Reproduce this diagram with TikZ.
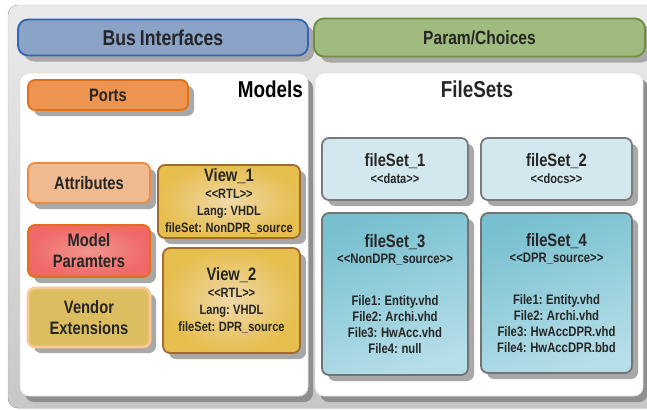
\documentclass[tikz,border=0pt]{standalone}
\usepackage{fontspec}
\setmainfont{Liberation Sans}[FakeStretch=0.82, WordSpace=0.8]
\usetikzlibrary{shadows}
\definecolor{txt}{HTML}{262626}
\definecolor{shadowgray}{HTML}{A8A8A8}
\definecolor{busfill}{HTML}{8AA3C6}
\definecolor{busline}{HTML}{3066B2}
\definecolor{parfill}{HTML}{A0BB7E}
\definecolor{parline}{HTML}{6E8E40}
\definecolor{orangeline}{HTML}{E36E14}
\definecolor{viewline}{HTML}{A06A30}
\definecolor{viewin}{HTML}{F0D8A8}
\definecolor{viewout}{HTML}{E6BE4E}
\newcommand\dlt{<\kern0pt<}
\newcommand\dgt{>\kern0pt>}
\begin{document}
\begin{tikzpicture}[x=1pt, y=-1pt,
  tile/.style={rounded corners=7pt, line width=1.8pt, inner sep=0pt, align=center, text=txt,
    drop shadow={shadow xshift=6pt, shadow yshift=-6pt, fill=shadowgray, opacity=1}},
  header/.style={tile, rounded corners=10pt, font=\bfseries\fontsize{21.5}{22}\selectfont},
  panel/.style={rounded corners=9pt, fill=white, draw=black!12, line width=.8pt, inner sep=0pt,
    drop shadow={shadow xshift=5pt, shadow yshift=-6pt, fill=shadowgray!85!black, opacity=1}},
  item/.style={tile, font=\bfseries\fontsize{18}{22}\selectfont},
  view/.style={tile, draw=viewline, inner color=viewin, outer color=viewout,
    font=\bfseries\fontsize{13.5}{17}\selectfont},
  lightset/.style={tile, draw=black!52, fill={rgb,255:red,210;green,232;blue,238},
    font=\bfseries\fontsize{13.5}{17}\selectfont},
  darkset/.style={tile, draw=black!55, top color={rgb,255:red,120;green,192;blue,208},
    bottom color={rgb,255:red,182;green,222;blue,232}, shading angle=20,
    font=\bfseries\fontsize{13.8}{16}\selectfont},
  title/.style={font=\bfseries\fontsize{23}{23}\selectfont, inner sep=0pt}]
\useasboundingbox (0,0) rectangle (647,410);
\clip (0,0) rectangle (647,410);
% background
\fill[rounded corners=10pt, top color=black!8, bottom color=black!22, draw=black!28]
  (8,5) rectangle (670,408);
% headers
\node[header, draw=busline, fill=busfill, minimum width=290, minimum height=36] (bus) at (163,37.5) {Bus Interfaces};
\node[header, draw=parline, fill=parfill, font=\bfseries\fontsize{19}{22}\selectfont,
  minimum width=331, minimum height=38] (param) at (479.5,37.5) {Param/Choices};
% panels
\node[panel, minimum width=288, minimum height=323] (models) at (164,234.5) {};
\node[panel, minimum width=328, minimum height=323] (filesets) at (479,234.5) {};
\node[title, anchor=base east] (modlabel) at (303,97) {Models};
\node[title, text=txt, anchor=base] (fslabel) at (477,97) {FileSets};
% model items
\node[item, draw=orangeline, fill={rgb,255:red,236;green,148;blue,80},
  minimum width=160, minimum height=30] (ports) at (108,95) {Ports};
\node[item, draw=orangeline!80!white, fill={rgb,255:red,240;green,186;blue,144},
  minimum width=122, minimum height=40] (attr) at (89,183) {Attributes};
\node[item, draw=orangeline, inner color={rgb,255:red,240;green,150;blue,140},
  outer color={rgb,255:red,240;green,104;blue,104},
  minimum width=122, minimum height=52] (modparam) at (89,251) {Model\\[-1pt]Paramters};
\node[item, draw={rgb,255:red,250;green,200;blue,150}, line width=2.6pt, fill={rgb,255:red,220;green,190;blue,96},
  minimum width=122, minimum height=59] (vendor) at (89,317.5) {Vendor\\[-1pt]Extensions};
\node[view, minimum width=142, minimum height=73] (view1) at (229,201.5)
  {{\fontsize{18}{18}\selectfont View\_1}\\ \dlt RTL\dgt\\ Lang: VHDL\\ fileSet: NonDPR\_source};
\node[view, minimum width=137, minimum height=105] (view2) at (231.5,300.5)
  {{\fontsize{18}{18}\selectfont View\_2}\\ \dlt RTL\dgt\\ Lang: VHDL\\ fileSet: DPR\_source};
% file sets
\node[lightset, minimum width=146, minimum height=62] (fs1) at (395,169)
  {{\fontsize{18}{18}\selectfont fileSet\_1}\\ \dlt data\dgt};
\node[lightset, minimum width=151, minimum height=62] (fs2) at (556.5,169)
  {{\fontsize{18}{18}\selectfont fileSet\_2}\\ \dlt docs\dgt};
\node[darkset, minimum width=146, minimum height=162] (fs3) at (395,294)
  {{\fontsize{18}{18}\selectfont fileSet\_3}\\ \dlt NonDPR\_source\dgt\\[26pt]
   File1: Entity.vhd\\ File2: Archi.vhd\\ File3: HwAcc.vhd\\ File4: null};
\node[darkset, minimum width=151, minimum height=160] (fs4) at (556.5,293)
  {{\fontsize{18}{18}\selectfont fileSet\_4}\\ \dlt DPR\_source\dgt\\[26pt]
   File1: Entity.vhd\\ File2: Archi.vhd\\ File3: HwAccDPR.vhd\\ File4: HwAccDPR.bbd};
\end{tikzpicture}
\end{document}
